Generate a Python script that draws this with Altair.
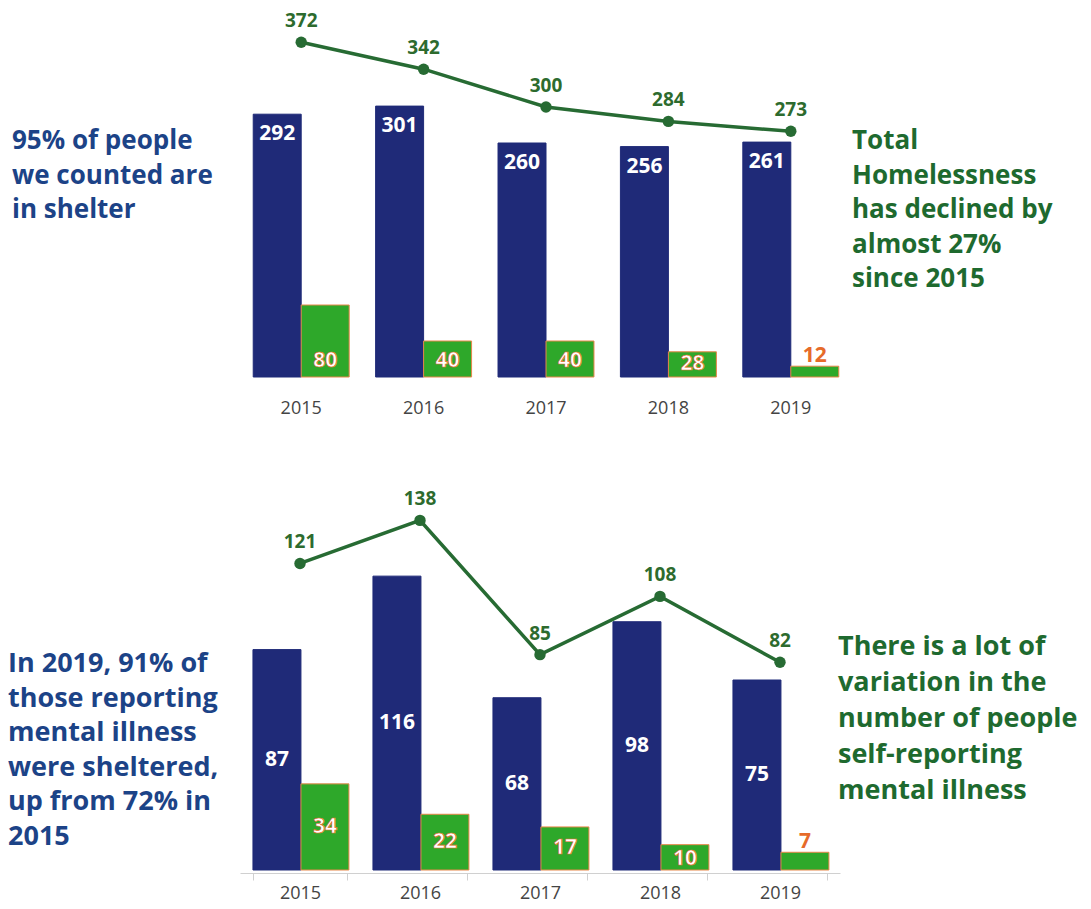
import altair as alt
import pandas as pd

years = ["2015", "2016", "2017", "2018", "2019"]
series_names = ["Sheltered", "Unsheltered"]

# Top panel: total homelessness
top_sheltered = [292, 301, 260, 256, 261]
top_unsheltered = [80, 40, 40, 28, 12]
top_total = [372, 342, 300, 284, 273]

# Bottom panel: self-reported mental illness
mi_sheltered = [87, 116, 68, 98, 75]
mi_unsheltered = [34, 22, 17, 10, 7]
mi_total = [121, 138, 85, 108, 82]

top_left_note = ["95% of people", "we counted are", "in shelter"]
top_right_note = ["Total", "Homelessness", "has declined by", "almost 27%", "since 2015"]
bottom_left_note = ["In 2019, 91% of", "those reporting", "mental illness",
                    "were sheltered,", "up from 72% in", "2015"]
bottom_right_note = ["There is a lot of", "variation in the", "number of people",
                     "self-reporting", "mental illness"]

FONT = "Open Sans"
ORANGE = "#e66b2a"
BAR_EDGE = "#e8874a"
LINE_GREEN = "#276b33"
LABEL_GREEN = "#2d6b2e"
NOTE_BLUE = "#1c4387"
NOTE_GREEN = "#1e6a2f"


def note(lines, x, y, color, size, lh):
    return alt.Chart(pd.DataFrame({"k": [0]})).mark_text(
        align="left", baseline="top", font=FONT, fontWeight="bold",
        fontSize=size, lineHeight=lh, color=color
    ).encode(x=alt.value(x), y=alt.value(y), text=alt.value(lines))


def panel(sh, un, tot, ymax, w, h, blue, green, blue_top, green_expr, thr,
          axis, notes):
    df = pd.DataFrame({
        "year": years * 2,
        "series": [series_names[0]] * 5 + [series_names[1]] * 5,
        "value": sh + un,
    })
    tdf = pd.DataFrame({"year": years, "total": tot})
    yscale = alt.Scale(domain=[0, ymax])
    xs = alt.X("year:N", sort=years,
               scale=alt.Scale(paddingInner=0.216, paddingOuter=0.108),
               axis=axis, title=None)
    xo = alt.XOffset("series:N", sort=series_names)

    bars = alt.Chart(df).mark_bar(strokeWidth=1).encode(
        x=xs, xOffset=xo,
        y=alt.Y("value:Q", scale=yscale, axis=None),
        color=alt.Color("series:N", scale=alt.Scale(domain=series_names, range=[blue, green]), legend=None),
        stroke=alt.Stroke("series:N", scale=alt.Scale(domain=series_names, range=[blue, BAR_EDGE]), legend=None),
    )

    if blue_top:
        blue_lbl = alt.Chart(df).transform_filter(
            alt.datum.series == series_names[0]
        ).mark_text(baseline="top", dy=9, font=FONT, fontWeight="bold",
                    fontSize=21, color="white").encode(
            x=xs, xOffset=xo, y=alt.Y("value:Q", scale=yscale, axis=None),
            text="value:Q")
    else:
        blue_lbl = alt.Chart(df).transform_filter(
            alt.datum.series == series_names[0]
        ).transform_calculate(ly="datum.value/2").mark_text(
            baseline="middle", font=FONT, fontWeight="bold",
            fontSize=21, color="white").encode(
            x=xs, xOffset=xo, y=alt.Y("ly:Q", scale=yscale, axis=None),
            text="value:Q")

    green_in = alt.Chart(df).transform_filter(
        (alt.datum.series == series_names[1]) & (alt.datum.value >= thr)
    ).transform_calculate(ly=green_expr).mark_text(
        baseline="middle", font=FONT, fontWeight="bold", fontSize=21,
        color="white", stroke=ORANGE, strokeWidth=0.7).encode(
        x=xs, xOffset=xo, y=alt.Y("ly:Q", scale=yscale, axis=None),
        text="value:Q")

    green_out = alt.Chart(df).transform_filter(
        (alt.datum.series == series_names[1]) & (alt.datum.value < thr)
    ).mark_text(baseline="bottom", dy=0, font=FONT, fontWeight="bold",
                fontSize=21, color=ORANGE).encode(
        x=xs, xOffset=xo, y=alt.Y("value:Q", scale=yscale, axis=None),
        text="value:Q")

    line = alt.Chart(tdf).mark_line(color=LINE_GREEN, strokeWidth=3.5).encode(
        x=xs, y=alt.Y("total:Q", scale=yscale, axis=None))
    pts = alt.Chart(tdf).mark_circle(color=LINE_GREEN, size=130, opacity=1).encode(
        x=xs, y=alt.Y("total:Q", scale=yscale, axis=None))
    tlbl = alt.Chart(tdf).mark_text(baseline="bottom", dy=-11, font=FONT,
                                    fontWeight="bold", fontSize=19,
                                    color=LABEL_GREEN).encode(
        x=xs, y=alt.Y("total:Q", scale=yscale, axis=None), text="total:Q")

    return alt.layer(bars, blue_lbl, green_in, green_out, line, pts, tlbl,
                     *notes).properties(width=w, height=h)


top_axis = alt.Axis(labelAngle=0, domain=False, ticks=False, labelFont=FONT,
                    labelFontSize=18, labelColor="#444444", labelPadding=22)
bottom_axis = alt.Axis(labelAngle=0, domain=True, domainColor="#d0d0d0",
                       ticks=True, tickBand="extent", tickColor="#d0d0d0",
                       tickSize=7, offset=3, labelFont=FONT, labelFontSize=18,
                       labelColor="#444444", labelPadding=4)

top = panel(top_sheltered, top_unsheltered, top_total, 410, 612, 369,
            "#1f2a78", "#2ea82a", True, "min(datum.value/2, 18)", 15, top_axis,
            [note(top_left_note, -228, 120, NOTE_BLUE, 26, 34.5),
             note(top_right_note, 612, 120, NOTE_GREEN, 26, 34.5)])

bottom = panel(mi_sheltered, mi_unsheltered, mi_total, 150, 600, 380,
               "#2d2c6d", "#44a12e", False, "min(datum.value/2, datum.value-5.5)",
               8, bottom_axis,
               [note(bottom_left_note, -232, 161, NOTE_BLUE, 27, 34.5),
                note(bottom_right_note, 598, 144, NOTE_GREEN, 27, 36)])

chart = alt.vconcat(top, bottom, spacing=113, bounds="flush").properties(
    padding=0
).configure_view(stroke=None)

chart.save("out.html", embed_options={"renderer": "svg", "actions": False})
